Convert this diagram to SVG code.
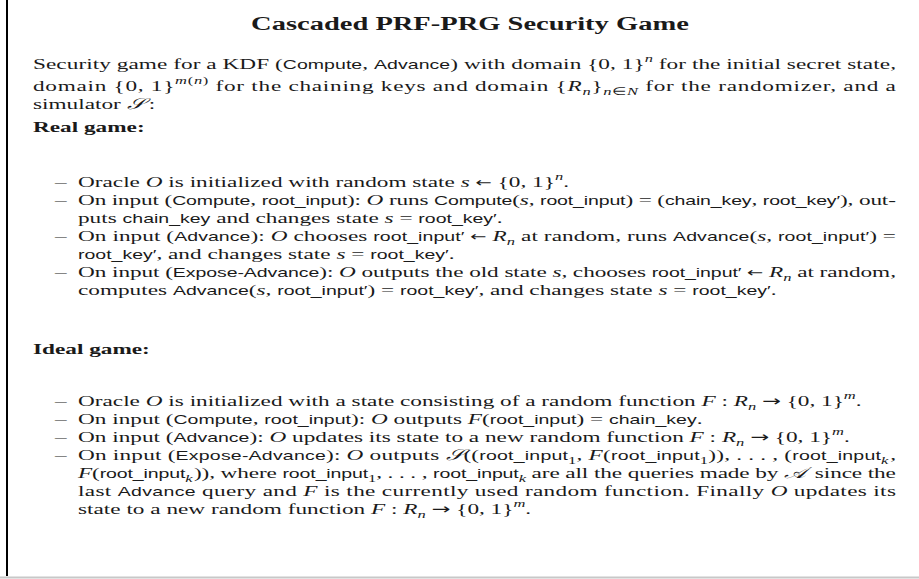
<svg xmlns="http://www.w3.org/2000/svg" width="919" height="579" viewBox="0 0 919 579">
<style>
text{font-family:"Liberation Serif",serif;font-size:15.5px;fill:#1a1a1a}
.t{font-weight:bold;font-size:19px}
.h{font-weight:bold}
.sf{font-family:"Liberation Sans",sans-serif;font-size:13px}
.i{font-style:italic}
.sup{font-size:11px}
.ar{font-family:"DejaVu Sans",sans-serif;font-size:13px}
.ar2{font-family:"DejaVu Sans",sans-serif;font-size:15px}
</style>
<rect x="0" y="0" width="919" height="579" fill="#fff"/>
<line x1="7" y1="0" x2="7" y2="576" stroke="#000" stroke-width="2"/>
<line x1="0" y1="577.5" x2="919" y2="577.5" stroke="#c8c8c8" stroke-width="2"/>
<g transform="scale(1.5,1)">
<g id="title"><text class="t" x="313.3" y="30" text-anchor="middle">Cascaded PRF-PRG Security Game</text></g>
<g id="intro">
<text x="22" y="69" textLength="575.3" lengthAdjust="spacing">Security game  for a KDF (<tspan class="sf">Compute</tspan>, <tspan class="sf">Advance</tspan>) with domain {0, 1}<tspan class="sup i" dy="-7">n</tspan><tspan dy="7"> for the initial secret state,</tspan></text>
<text x="22" y="91" textLength="575.3" lengthAdjust="spacing">domain {0, 1}<tspan class="sup" dy="-7"><tspan class="i">m</tspan>(<tspan class="i">n</tspan>)</tspan><tspan dy="7"> for the chaining keys and domain {</tspan><tspan class="i">R</tspan><tspan class="sup i" dy="4">n</tspan><tspan dy="-4">}</tspan><tspan class="sup" dy="4"><tspan class="i">n</tspan>∈<tspan class="i">N</tspan></tspan><tspan dy="-4"> for the randomizer, and a</tspan></text>
<text x="22" y="109">simulator <tspan class="i">𝒮</tspan><tspan dx="3">:</tspan></text>
</g>
<g id="real-game">
<text class="h" x="22" y="132">Real game:</text>
<text x="36.7" y="187">–</text>
<text x="52" y="187">Oracle <tspan class="i">O</tspan> is initialized with random state <tspan class="i">s</tspan> <tspan class="ar">←</tspan> {0, 1}<tspan class="sup i" dy="-7">n</tspan><tspan dy="7">.</tspan></text>
<text x="36.7" y="205">–</text>
<text x="52" y="205" textLength="545.3" lengthAdjust="spacing">On input (<tspan class="sf">Compute</tspan>, <tspan class="sf">root_input</tspan>): <tspan class="i">O</tspan> runs <tspan class="sf">Compute</tspan>(<tspan class="i">s</tspan>, <tspan class="sf">root_input</tspan>) = (<tspan class="sf">chain_key</tspan>, <tspan class="sf">root_key′</tspan>), out-</text>
<text x="52" y="223">puts <tspan class="sf">chain_key</tspan> and changes state <tspan class="i">s</tspan> = <tspan class="sf">root_key′</tspan>.</text>
<text x="36.7" y="241">–</text>
<text x="52" y="241" textLength="545.3" lengthAdjust="spacing">On input (<tspan class="sf">Advance</tspan>): <tspan class="i">O</tspan> chooses <tspan class="sf">root_input′</tspan> <tspan class="ar">←</tspan> <tspan class="i">R</tspan><tspan class="sup i" dy="4">n</tspan><tspan dy="-4"> at random, runs </tspan><tspan class="sf">Advance</tspan>(<tspan class="i">s</tspan>, <tspan class="sf">root_input′</tspan>) =</text>
<text x="52" y="259"><tspan class="sf">root_key′</tspan>, and changes state <tspan class="i">s</tspan> = <tspan class="sf">root_key′</tspan>.</text>
<text x="36.7" y="277">–</text>
<text x="52" y="277" textLength="545.3" lengthAdjust="spacing">On input (<tspan class="sf">Expose-Advance</tspan>): <tspan class="i">O</tspan> outputs the old state <tspan class="i">s</tspan>, chooses <tspan class="sf">root_input′</tspan> <tspan class="ar">←</tspan> <tspan class="i">R</tspan><tspan class="sup i" dy="4">n</tspan><tspan dy="-4"> at random,</tspan></text>
<text x="52" y="295">computes <tspan class="sf">Advance</tspan>(<tspan class="i">s</tspan>, <tspan class="sf">root_input′</tspan>) = <tspan class="sf">root_key′</tspan>, and changes state <tspan class="i">s</tspan> = <tspan class="sf">root_key′</tspan>.</text>
</g>
<g id="ideal-game">
<text class="h" x="22" y="354">Ideal game:</text>
<text x="36.7" y="406">–</text>
<text x="52" y="406">Oracle <tspan class="i">O</tspan> is initialized with a state consisting of a random function <tspan class="i">F</tspan> : <tspan class="i">R</tspan><tspan class="sup i" dy="4">n</tspan><tspan dy="-4"> </tspan><tspan class="ar2">→</tspan> {0, 1}<tspan class="sup i" dy="-7">m</tspan><tspan dy="7">.</tspan></text>
<text x="36.7" y="424">–</text>
<text x="52" y="424">On input (<tspan class="sf">Compute</tspan>, <tspan class="sf">root_input</tspan>): <tspan class="i">O</tspan> outputs <tspan class="i">F</tspan>(<tspan class="sf">root_input</tspan>) = <tspan class="sf">chain_key</tspan>.</text>
<text x="36.7" y="442">–</text>
<text x="52" y="442">On input (<tspan class="sf">Advance</tspan>): <tspan class="i">O</tspan> updates its state to a new random function <tspan class="i">F</tspan> : <tspan class="i">R</tspan><tspan class="sup i" dy="4">n</tspan><tspan dy="-4"> </tspan><tspan class="ar2">→</tspan> {0, 1}<tspan class="sup i" dy="-7">m</tspan><tspan dy="7">.</tspan></text>
<text x="36.7" y="460">–</text>
<text x="52" y="460" textLength="545.3" lengthAdjust="spacing">On input (<tspan class="sf">Expose-Advance</tspan>): <tspan class="i">O</tspan> outputs <tspan class="i">𝒮</tspan>((<tspan class="sf">root_input</tspan><tspan class="sup" dy="4">1</tspan><tspan dy="-4">, </tspan><tspan class="i">F</tspan>(<tspan class="sf">root_input</tspan><tspan class="sup" dy="4">1</tspan><tspan dy="-4">)), . . . , (</tspan><tspan class="sf">root_input</tspan><tspan class="sup i" dy="4">k</tspan><tspan dy="-4" dx="1">,</tspan></text>
<text x="52" y="478" textLength="545.3" lengthAdjust="spacing"><tspan class="i">F</tspan>(<tspan class="sf">root_input</tspan><tspan class="sup i" dy="4">k</tspan><tspan dy="-4" dx="1">)), where </tspan><tspan class="sf">root_input</tspan><tspan class="sup" dy="4">1</tspan><tspan dy="-4">, . . . , </tspan><tspan class="sf">root_input</tspan><tspan class="sup i" dy="4">k</tspan><tspan dy="-4"> are all the queries made by </tspan><tspan class="i">𝒜</tspan><tspan dx="2"> since the</tspan></text>
<text x="52" y="496" textLength="545.3" lengthAdjust="spacing">last <tspan class="sf">Advance</tspan> query and <tspan class="i">F</tspan> is the currently used random function. Finally <tspan class="i">O</tspan> updates its</text>
<text x="52" y="514">state to a new random function <tspan class="i">F</tspan> : <tspan class="i">R</tspan><tspan class="sup i" dy="4">n</tspan><tspan dy="-4"> </tspan><tspan class="ar2">→</tspan> {0, 1}<tspan class="sup i" dy="-7">m</tspan><tspan dy="7">.</tspan></text>
</g>
</g>
</svg>
